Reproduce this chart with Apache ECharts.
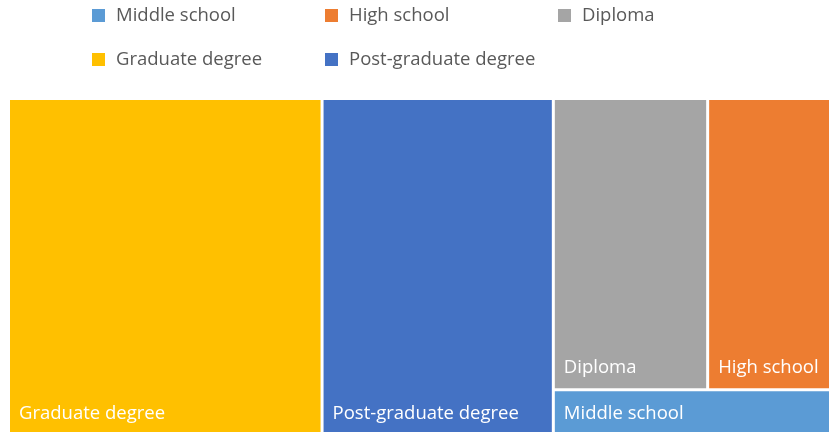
<!DOCTYPE html>
<html><head><meta charset="utf-8">
<script src="https://cdn.jsdelivr.net/npm/echarts@6/dist/echarts.min.js"></script>
<style>html,body{margin:0;padding:0;background:#fff}#c{width:829px;height:432px}</style>
</head><body><div id="c"></div>
<script>
const categories = ['Middle school', 'High school', 'Diploma', 'Graduate degree', 'Post-graduate degree'];
const values = [4.6, 13.0, 16.2, 38.1, 28.1];
const colors = ['#5B9BD5', '#ED7D31', '#A5A5A5', '#FFC000', '#4472C4'];

const legendLeft = [92, 325, 558, 92, 325];
const legendTop = [6, 6, 6, 50, 50];
const FONT = '"Open Sans", "Noto Sans", sans-serif';

const chart = echarts.init(document.getElementById('c'), null, {renderer: 'canvas'});

const legends = categories.map((n, i) => ({
  data: [n],
  left: legendLeft[i],
  top: legendTop[i],
  padding: 0,
  icon: 'rect',
  itemWidth: 13,
  itemHeight: 13,
  itemStyle: {opacity: 1},
  selectedMode: false,
  textStyle: {color: '#595959', fontSize: 18.5, fontFamily: FONT, padding: [0, 0, 0, 6]}
}));

const dummy = categories.map((n, i) => ({
  type: 'scatter', name: n, data: [], itemStyle: {color: colors[i], opacity: 1}
}));

chart.setOption({
  animation: false,
  grid: {show: false, left: 0, top: 0, width: 1, height: 1},
  xAxis: {show: false},
  yAxis: {show: false},
  legend: legends,
  series: [
    ...dummy,
    {
      type: 'treemap',
      left: 10, top: 100, width: 820, height: 334,
      squareRatio: 1.27,
      roam: false,
      nodeClick: false,
      breadcrumb: {show: false},
      sort: 'desc',
      label: {
        show: true, position: 'insideBottomLeft', distance: 0,
        padding: [0, 0, 11, 9],
        color: '#fff', fontSize: 18.5, fontFamily: FONT, formatter: '{b}'
      },
      upperLabel: {show: false},
      levels: [{itemStyle: {gapWidth: 3, borderWidth: 0}}],
      itemStyle: {borderWidth: 0},
      emphasis: {disabled: true},
      data: categories.map((n, i) => ({name: n, value: values[i], itemStyle: {color: colors[i]}}))
    }
  ]
});
</script></body></html>
